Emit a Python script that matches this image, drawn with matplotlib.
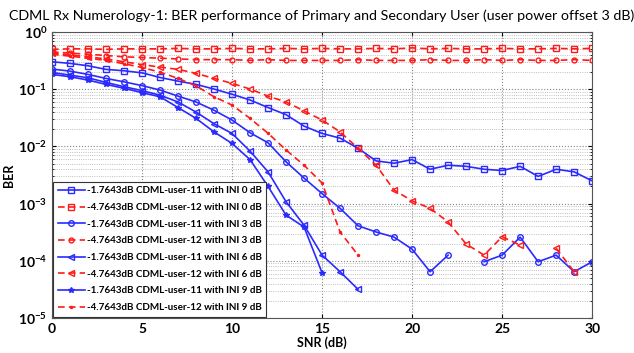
import numpy as np
import matplotlib
matplotlib.use("Agg")
import matplotlib.pyplot as plt
from matplotlib.ticker import LogLocator, NullFormatter

plt.rcParams['font.family'] = ['Lato', 'DejaVu Sans']
plt.rcParams['mathtext.fontset'] = 'custom'
plt.rcParams['mathtext.rm'] = 'Lato'
plt.rcParams['mathtext.bf'] = 'Lato:bold'

snr = np.arange(0, 31)
nan = np.nan

# user-11 (primary), blue solid
u11_ini0 = [0.303, 0.284, 0.258, 0.223, 0.211, 0.194, 0.161, 0.139, 0.122, 0.101,
            0.082, 0.065, 0.048, 0.036, 0.0227, 0.0169, 0.014, 0.0093, 0.0056, 0.0051,
            0.0059, 0.0040, 0.0047, 0.0045, 0.0040, 0.0038, 0.0045, 0.0030, 0.0040, 0.0036,
            0.0025]
u11_ini3 = [0.226, 0.208, 0.182, 0.155, 0.135, 0.116, 0.097, 0.076, 0.060, 0.043,
            0.029, 0.0174, 0.0116, 0.0054, 0.0028, 0.0015, 0.00083, 0.00041, 0.00032, 0.00026,
            0.00016, 0.0000645, 0.000126, nan, 0.0000965, 0.000126, 0.00026, 0.0000965, 0.000126, 0.0000645,
            0.0000965]
u11_ini6 = [0.197, 0.177, 0.159, 0.132, 0.111, 0.095, 0.079, 0.060, 0.040, 0.025,
            0.0169, 0.0083, 0.0036, 0.00108, 0.00042, 0.000126, 0.0000645, 0.0000318]
u11_ini9 = [0.182, 0.166, 0.145, 0.122, 0.104, 0.0875, 0.074, 0.048, 0.031, 0.018,
            0.0113, 0.0059, 0.0020, 0.00063, 0.00039, 0.0000619]

# user-12 (secondary), red dashed
u12_ini0 = [0.50, 0.51, 0.51, 0.50, 0.51, 0.51, 0.51, 0.52, 0.51, 0.51,
            0.52, 0.51, 0.51, 0.52, 0.51, 0.52, 0.51, 0.51, 0.52, 0.51,
            0.53, 0.51, 0.52, 0.51, 0.51, 0.52, 0.51, 0.51, 0.52, 0.51,
            0.52]
u12_ini3 = [0.45, 0.43, 0.41, 0.39, 0.37, 0.36, 0.35, 0.34, 0.33, 0.33,
            0.33, 0.32, 0.33, 0.32, 0.32, 0.32, 0.32, 0.33, 0.32, 0.32,
            0.32, 0.33, 0.32, 0.32, 0.33, 0.32, 0.33, 0.32, 0.32, 0.33,
            0.32]
u12_ini6 = [0.43, 0.40, 0.37, 0.34, 0.303, 0.27, 0.245, 0.223, 0.190, 0.155,
            0.127, 0.101, 0.076, 0.060, 0.042, 0.029, 0.018, 0.0093, 0.0047, 0.00173,
            0.00112, 0.00083, 0.00048, 0.000197, 0.000126, 0.000264, 0.000189, nan, 0.000166, 0.0000645]
u12_ini9 = [0.41, 0.38, 0.35, 0.32, 0.28, 0.24, 0.20, 0.155, 0.115, 0.074,
            0.053, 0.031, 0.017, 0.0087, 0.0047, 0.0023, 0.00032, 0.000126]

labels = ['-1.7643dB CDML-user-11 with INI 0 dB', '-4.7643dB CDML-user-12 with INI 0 dB',
          '-1.7643dB CDML-user-11 with INI 3 dB', '-4.7643dB CDML-user-12 with INI 3 dB',
          '-1.7643dB CDML-user-11 with INI 6 dB', '-4.7643dB CDML-user-12 with INI 6 dB',
          '-1.7643dB CDML-user-11 with INI 9 dB', '-4.7643dB CDML-user-12 with INI 9 dB']

series = [u11_ini0, u12_ini0, u11_ini3, u12_ini3, u11_ini6, u12_ini6, u11_ini9, u12_ini9]
markers = ['s', 's', 'o', 'o', '<', '<', '*', '.']
msizes = [5, 5, 4, 3.5, 5, 5, 4, 3]

blue = '#2a2aff'
red = '#ff1a1a'

fig = plt.figure(figsize=(6.34, 3.53), dpi=100)
ax = fig.add_axes([0.082, 0.099, 0.852, 0.810])

for i, (ys, lab) in enumerate(zip(series, labels)):
    xs = snr[:len(ys)]
    if i % 2 == 0:
        ax.plot(xs, ys, color=blue, ls='-', lw=1.2, marker=markers[i], ms=msizes[i],
                mfc='none' if markers[i] not in ('*', '.') else blue, mew=1.0, label=lab)
    else:
        ax.plot(xs, ys, color=red, ls='--', lw=1.2, marker=markers[i], ms=msizes[i],
                mfc='none' if markers[i] != '.' else red, mew=1.0, label=lab, dashes=(4, 2.5))

ax.set_yscale('log')
ax.set_xlim(0, 30)
ax.set_ylim(1e-5, 1)
ax.set_xticks(range(0, 31, 5))
ax.yaxis.set_major_locator(LogLocator(base=10, numticks=10))
ax.yaxis.set_minor_locator(LogLocator(base=10, subs=np.arange(2, 10), numticks=10))
ax.yaxis.set_minor_formatter(NullFormatter())
ax.grid(True, which='major', ls=':', color='#888888', lw=0.8)
ax.grid(True, which='minor', axis='y', ls=':', color='#aaaaaa', lw=0.6)
ax.tick_params(direction='in', labelsize=10, length=3, top=True, right=True, which='both')
ax.tick_params(which='minor', length=1.5)
for lbl in ax.get_xticklabels() + ax.get_yticklabels():
    lbl.set_fontweight('bold')
for sp in ax.spines.values():
    sp.set_color('#555555')

ax.set_xlabel('SNR (dB)', fontsize=9, fontweight='bold', labelpad=1)
ax.set_ylabel('BER', fontsize=9, fontweight='bold', labelpad=2)
ax.set_title('CDML Rx Numerology-1: BER performance of Primary and Secondary User (user power offset 3 dB)',
             fontsize=10.3, pad=9)

leg = ax.legend(loc='lower left', prop={'weight': 'bold', 'size': 7.1},
                fancybox=False, framealpha=1, edgecolor='#333333', handlelength=2.7,
                borderaxespad=0.15, labelspacing=0.78, handletextpad=0.2, borderpad=0.45)
leg.get_frame().set_linewidth(0.8)

fig.savefig('out.png', dpi=100)
